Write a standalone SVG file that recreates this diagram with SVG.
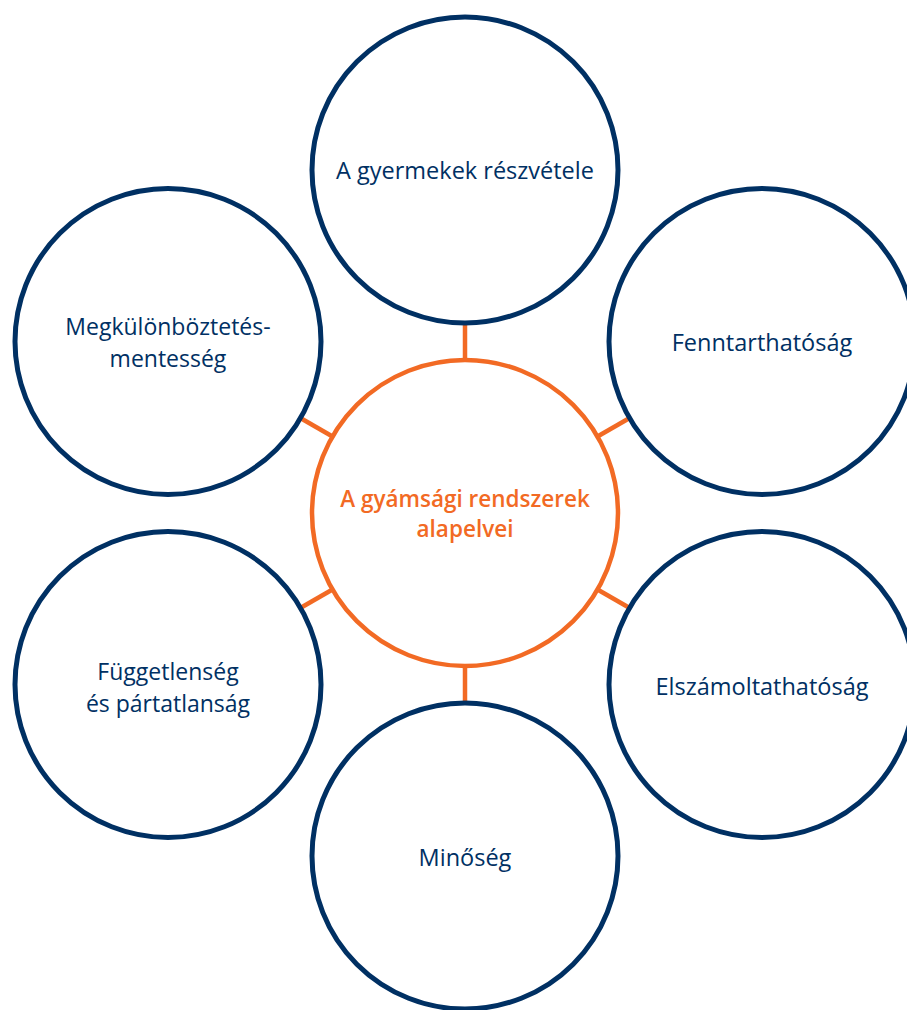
<svg xmlns="http://www.w3.org/2000/svg" width="907" height="1010" viewBox="0 0 907 1010">
<style>
.n{fill:#fff;stroke:#003063;stroke-width:5}
.c{fill:#fff;stroke:#f26a24;stroke-width:4.5}
.t{font-family:"Open Sans","Noto Sans",sans-serif;font-size:23.5px;fill:#003063;text-anchor:middle}
.t2{font-size:23px}
.ct{font-family:"Open Sans","Noto Sans",sans-serif;font-size:22.5px;font-weight:600;fill:#f26a24;text-anchor:middle}
.l{stroke:#f26a24;stroke-width:4.5;fill:none}
</style>
<rect width="907" height="1010" fill="#fff"/>
<g id="connectors">
<line class="l" x1="465" y1="322" x2="465" y2="360"/>
<line class="l" x1="465" y1="666" x2="465" y2="704"/>
<line class="l" x1="299.5" y1="417.5" x2="332.5" y2="436.5"/>
<line class="l" x1="630.5" y1="417.5" x2="597.5" y2="436.5"/>
<line class="l" x1="299.5" y1="608.5" x2="332.5" y2="589.5"/>
<line class="l" x1="630.5" y1="608.5" x2="597.5" y2="589.5"/>
</g>
<g id="center">
<circle class="c" cx="465" cy="513" r="153"/>
<text class="ct" x="465" y="507"><tspan x="465" y="507">A gyámsági rendszerek</tspan><tspan x="465" y="537">alapelvei</tspan></text>
</g>
<g id="n-top">
<circle class="n" cx="465" cy="170" r="153"/>
<text class="t" x="465" y="179">A gyermekek részvétele</text>
</g>
<g id="n-topright">
<circle class="n" cx="762" cy="341.5" r="153"/>
<text class="t" x="762" y="350.5">Fenntarthatóság</text>
</g>
<g id="n-bottomright">
<circle class="n" cx="762" cy="684.5" r="153"/>
<text class="t" x="762" y="694.5">Elszámoltathatóság</text>
</g>
<g id="n-bottom">
<circle class="n" cx="465" cy="856" r="153"/>
<text class="t" x="465" y="866">Minőség</text>
</g>
<g id="n-bottomleft">
<circle class="n" cx="168" cy="684.5" r="153"/>
<text class="t t2" x="168" y="680"><tspan x="168" y="680">Függetlenség</tspan><tspan x="168" y="711.5">és pártatlanság</tspan></text>
</g>
<g id="n-topleft">
<circle class="n" cx="168" cy="341.5" r="153"/>
<text class="t t2" x="168" y="335"><tspan x="168" y="335">Megkülönböztetés-</tspan><tspan x="168" y="366.5">mentesség</tspan></text>
</g>
</svg>
